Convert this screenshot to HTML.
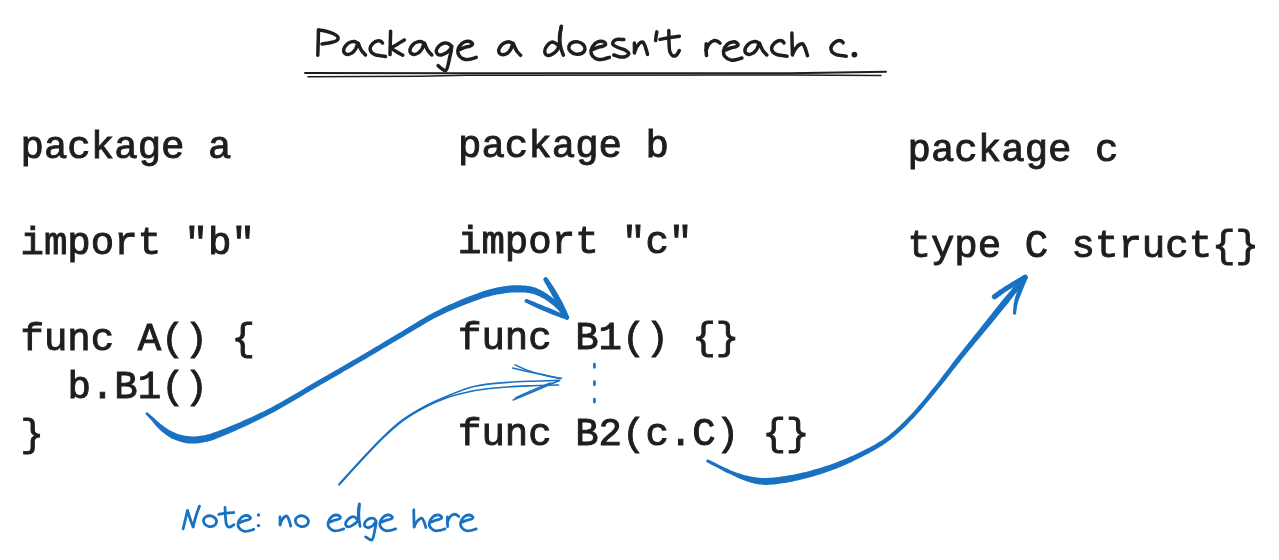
<!DOCTYPE html>
<html><head><meta charset="utf-8">
<style>
html,body{margin:0;padding:0;background:#fff;}
body{width:1279px;height:560px;overflow:hidden;position:relative;}
svg{position:absolute;left:0;top:0;will-change:transform;}
.m{font-family:"Liberation Mono",monospace;font-size:39.06px;fill:#1e1e1e;stroke:#1e1e1e;stroke-width:0.95px;white-space:pre;}
.b{fill:none;stroke:#1971c2;stroke-linecap:round;stroke-linejoin:round;}
.k{fill:none;stroke:#1e1e1e;stroke-linecap:round;stroke-linejoin:round;}
</style></head><body>
<svg width="1279" height="560" viewBox="0 0 1279 560">
<!-- code text -->
<g class="m" xml:space="preserve">
<text transform="translate(20.5 157.8) scale(1 1)">package a</text>
<text transform="translate(20.5 253.8) scale(1 1)">import &quot;b&quot;</text>
<text transform="translate(20.5 349.8) scale(1 1)">func A() {</text>
<text transform="translate(67.4 397.8) scale(1 1)">b.B1()</text>
<text transform="translate(20.5 445.8) scale(1 1)">}</text>
<text transform="translate(458.0 156.8) scale(1 1)">package b</text>
<text transform="translate(458.0 252.8) scale(1 1)">import &quot;c&quot;</text>
<text transform="translate(458.0 348.8) scale(1 1)">func B1() {}</text>
<text transform="translate(458.0 444.8) scale(1 1)">func B2(c.C) {}</text>
<text transform="translate(907.5 160.8) scale(1 1)">package c</text>
<text transform="translate(907.5 256.8) scale(1 1)">type C struct{}</text>
</g>
<!-- title: Package a doesn't reach c. -->
<g class="k" stroke-width="3.5">
<path d="M318.5 30.0 C318.4 34.0 318.3 37.9 318.2 42.0 C318.1 46.3 317.9 50.9 317.8 55.3"/>
<path d="M318.5 30.0 C321.0 30.4 323.6 30.6 326.0 31.2 C328.4 31.8 330.9 32.5 333.0 33.5 C334.8 34.4 337.2 35.5 337.8 36.8 C338.2 37.8 338.2 39.1 337.5 40.0 C336.5 41.3 333.4 41.9 331.0 42.5 C328.3 43.2 325.0 43.5 322.0 44.0"/>
<path d="M358.1 43.1 C356.8 42.6 355.4 41.8 354.2 41.6 C353.2 41.5 352.3 41.6 351.2 41.9 C349.8 42.3 347.9 43.2 346.7 44.4 C345.4 45.7 344.0 47.8 343.7 49.4 C343.5 50.6 343.8 52.1 344.4 52.9 C345.0 53.7 346.3 54.3 347.4 54.4 C348.8 54.5 350.8 53.8 352.2 52.9 C353.6 52.0 354.7 50.4 355.7 48.9 C356.7 47.2 357.4 43.1 358.1 43.1 C358.7 43.1 359.1 45.6 359.7 46.9 C360.4 48.4 361.2 50.0 362.2 51.4 C363.2 52.7 364.4 53.8 365.5 55.0"/>
<path d="M382.5 43.0 C381.8 42.4 381.3 41.5 380.5 41.1 C379.8 40.8 378.9 40.6 378.0 40.8 C376.6 41.0 374.3 42.1 373.0 43.3 C371.7 44.6 370.3 46.7 370.1 48.3 C370.0 49.7 370.6 51.2 371.5 52.3 C372.4 53.4 374.0 54.2 375.5 54.8 C377.1 55.4 379.3 55.5 381.0 55.8 C382.6 56.0 384.0 56.2 385.5 56.4"/>
<path d="M390.6 31.2 C390.5 35.1 390.4 39.1 390.3 43.0 C390.2 46.9 390.1 50.7 390.0 54.6"/>
<path d="M404.4 40.0 C401.9 41.5 399.2 43.0 397.0 44.5 C395.1 45.7 391.9 46.9 391.9 48.1 C391.9 49.4 395.2 50.8 397.0 52.0 C398.8 53.2 400.9 54.1 402.8 55.2"/>
<path d="M424.4 43.1 C423.1 42.6 421.7 41.8 420.5 41.6 C419.5 41.5 418.6 41.6 417.5 41.9 C416.1 42.3 414.2 43.2 413.0 44.4 C411.7 45.7 410.3 47.8 410.0 49.4 C409.8 50.6 410.1 52.1 410.7 52.9 C411.3 53.7 412.6 54.3 413.8 54.4 C415.1 54.5 417.1 53.8 418.5 52.9 C419.9 52.0 421.0 50.4 422.0 48.9 C423.0 47.2 423.7 43.1 424.4 43.1 C425.0 43.1 425.4 45.6 426.0 46.9 C426.7 48.4 427.5 50.0 428.5 51.4 C429.5 52.7 430.7 53.8 431.8 55.0"/>
<path d="M451.9 46.5 C450.6 45.5 449.3 44.0 448.0 43.5 C446.9 43.0 445.7 42.9 444.5 43.1 C442.9 43.4 440.9 44.3 439.5 45.5 C438.1 46.8 436.4 49.0 436.2 50.6 C436.1 51.8 436.7 53.3 437.5 54.0 C438.3 54.8 439.9 55.1 441.2 55.0 C442.7 54.9 444.5 53.9 446.0 53.0 C447.5 52.1 449.0 50.7 450.0 49.5 C450.8 48.5 451.7 46.4 451.9 46.5 C452.3 46.7 450.9 52.5 450.0 56.0 C448.9 60.4 447.7 69.7 445.6 70.6 C444.4 71.1 442.8 69.3 441.5 68.5 C440.3 67.7 439.2 66.6 438.1 65.6"/>
<path d="M460.4 49.3 C461.9 48.6 463.3 47.8 464.9 47.3 C466.4 46.8 468.5 46.8 469.9 46.2 C470.9 45.7 472.3 45.1 472.4 44.4 C472.6 43.8 471.9 42.7 471.1 42.2 C470.2 41.5 468.3 41.1 466.9 41.2 C465.2 41.4 463.3 42.2 461.9 43.5 C460.1 45.1 458.1 48.3 457.9 50.6 C457.6 52.5 458.2 54.6 459.4 56.0 C460.6 57.6 463.3 59.0 465.4 59.5 C467.2 59.9 469.0 59.4 470.9 59.0 C472.7 58.6 474.4 57.9 476.2 57.3"/>
<path d="M513.2 43.4 C511.9 42.9 510.5 42.1 509.3 41.9 C508.3 41.8 507.4 41.9 506.3 42.2 C504.9 42.6 503.0 43.5 501.8 44.7 C500.5 46.0 499.1 48.1 498.8 49.7 C498.6 50.9 498.9 52.4 499.5 53.2 C500.1 54.0 501.4 54.6 502.6 54.7 C503.9 54.8 505.9 54.1 507.3 53.2 C508.7 52.3 509.8 50.7 510.8 49.2 C511.8 47.5 512.5 43.4 513.2 43.4 C513.8 43.4 514.2 45.9 514.8 47.2 C515.5 48.7 516.3 50.3 517.3 51.7 C518.3 53.0 519.5 54.1 520.6 55.3"/>
<path d="M557.8 45.0 C556.7 44.2 555.7 43.0 554.5 42.6 C553.4 42.2 552.1 41.9 551.0 42.3 C549.7 42.7 548.2 44.2 547.2 45.5 C546.1 46.9 545.0 48.8 544.8 50.4 C544.6 51.7 544.9 53.4 545.6 54.3 C546.2 55.1 547.4 55.6 548.5 55.6 C549.8 55.6 551.6 54.7 553.0 53.8 C554.6 52.8 556.4 51.1 557.5 49.5 C558.5 48.0 558.9 46.2 559.6 44.5"/>
<path d="M561.4 26.2 C561.0 28.5 560.5 30.6 560.2 33.0 C559.9 35.5 559.7 38.4 559.8 41.0 C559.9 43.5 560.4 46.1 561.0 48.5 C561.6 50.8 562.6 53.0 563.4 55.2"/>
<path d="M561.2 27.0 C560.7 30.0 559.9 33.1 559.6 36.0 C559.4 38.7 559.6 41.3 559.6 44.0"/>
<ellipse cx="576.9" cy="48.0" rx="8.2" ry="6.2" transform="rotate(10 576.9 48.0)"/>
<path d="M593.5 49.3 C595.0 48.6 596.4 47.8 598.0 47.3 C599.6 46.8 601.6 46.8 603.0 46.2 C604.1 45.7 605.4 45.1 605.6 44.4 C605.7 43.8 605.0 42.7 604.3 42.2 C603.4 41.5 601.5 41.1 600.0 41.2 C598.4 41.4 596.4 42.2 595.0 43.5 C593.3 45.1 591.3 48.3 591.0 50.6 C590.8 52.5 591.4 54.6 592.5 56.0 C593.7 57.6 596.5 59.0 598.5 59.5 C600.3 59.9 602.2 59.4 604.0 59.0 C605.8 58.6 607.6 57.9 609.4 57.3"/>
<path d="M623.8 39.6 C621.9 39.5 619.8 39.0 618.0 39.3 C616.4 39.6 614.3 40.3 613.5 41.3 C612.9 42.1 612.6 43.6 613.0 44.5 C613.6 45.7 616.1 46.6 618.0 47.5 C620.1 48.5 623.1 48.9 625.0 50.0 C626.6 51.0 628.8 52.4 628.8 53.5 C628.8 54.5 627.2 55.7 626.0 56.3 C624.5 57.0 622.0 57.2 620.0 57.0 C617.9 56.8 615.9 55.7 613.8 55.0"/>
<path d="M634.4 43.1 L634.5 53.1"/>
<path d="M634.5 52.1 C635.3 50.3 635.9 48.2 636.9 46.6 C637.9 45.1 639.2 43.3 640.4 42.6 C641.2 42.1 642.0 41.7 642.7 42.0 C643.5 42.3 644.1 43.9 644.7 45.1 C645.3 46.4 645.7 48.1 646.2 49.6 C646.7 51.2 647.1 52.8 647.5 54.4"/>
<path d="M656.9 31.9 C656.6 33.3 656.3 34.6 656.1 36.0 C655.9 37.5 655.8 39.1 655.6 40.6"/>
<path d="M668.8 30.6 C668.9 34.4 668.8 38.3 669.0 42.0 C669.2 45.4 669.1 49.6 670.0 52.0 C670.6 53.6 671.4 55.1 672.5 55.6 C673.5 56.1 675.0 56.0 676.0 55.4 C677.3 54.7 678.3 52.2 679.4 50.6"/>
<path d="M660.0 39.4 C663.3 38.8 666.7 38.0 670.0 37.5 C673.2 37.0 676.3 36.6 679.4 36.2"/>
<path d="M706.2 43.8 C706.2 45.8 706.0 47.8 706.0 49.8 C706.1 51.7 706.4 53.7 706.5 55.6"/>
<path d="M706.2 50.2 C707.1 48.2 707.5 45.9 708.8 44.2 C710.0 42.7 712.2 41.0 713.8 40.6 C715.0 40.4 716.2 40.7 717.2 41.1 C718.3 41.6 719.1 42.5 720.0 43.1"/>
<path d="M726.0 50.0 C727.5 49.3 728.9 48.5 730.5 48.0 C732.1 47.4 734.1 47.4 735.5 46.9 C736.6 46.4 737.9 45.8 738.1 45.0 C738.2 44.4 737.5 43.4 736.8 42.9 C735.9 42.2 734.0 41.7 732.5 41.9 C730.9 42.0 728.9 42.9 727.5 44.1 C725.8 45.7 723.8 49.0 723.5 51.2 C723.3 53.1 723.9 55.2 725.0 56.6 C726.2 58.3 729.0 59.7 731.0 60.1 C732.8 60.6 734.7 60.0 736.5 59.6 C738.3 59.3 740.1 58.5 741.9 58.0"/>
<path d="M759.4 43.1 C758.1 42.6 756.7 41.8 755.5 41.6 C754.5 41.5 753.6 41.6 752.5 41.9 C751.1 42.3 749.2 43.2 748.0 44.4 C746.7 45.7 745.3 47.8 745.0 49.4 C744.8 50.6 745.1 52.1 745.7 52.9 C746.3 53.7 747.6 54.3 748.8 54.4 C750.1 54.5 752.1 53.8 753.5 52.9 C754.9 52.0 756.0 50.4 757.0 48.9 C758.0 47.2 758.7 43.1 759.4 43.1 C760.0 43.1 760.4 45.6 761.0 46.9 C761.7 48.4 762.5 50.0 763.5 51.4 C764.5 52.7 765.7 53.8 766.8 55.0"/>
<path d="M784.0 42.8 C783.3 42.2 782.8 41.3 782.0 40.9 C781.3 40.6 780.4 40.4 779.5 40.6 C778.1 40.8 775.8 41.9 774.5 43.1 C773.2 44.4 771.8 46.5 771.6 48.1 C771.5 49.5 772.1 51.0 773.0 52.1 C773.9 53.2 775.5 54.0 777.0 54.6 C778.6 55.2 780.8 55.3 782.5 55.6 C784.1 55.8 785.5 56.0 787.0 56.2"/>
<path d="M791.9 33.1 C792.0 36.8 792.0 40.4 792.1 44.1 C792.2 47.7 792.4 51.4 792.5 55.0"/>
<path d="M792.5 54.1 C793.6 52.1 794.6 49.8 795.9 48.1 C797.1 46.6 798.6 45.1 799.9 44.4 C800.8 43.9 801.8 43.4 802.5 43.7 C803.4 44.1 804.0 45.7 804.7 47.1 C805.7 49.2 806.6 52.8 807.5 55.6"/>
<path d="M843.2 42.8 C842.6 42.2 842.0 41.3 841.2 40.9 C840.5 40.6 839.7 40.4 838.8 40.6 C837.3 40.8 835.1 41.9 833.8 43.1 C832.4 44.4 831.0 46.5 830.9 48.1 C830.7 49.5 831.4 51.0 832.2 52.1 C833.2 53.2 834.7 54.0 836.2 54.6 C837.9 55.2 840.0 55.3 841.8 55.6 C843.3 55.8 844.8 56.0 846.2 56.2"/>
<circle cx="854.4" cy="54.6" r="2.9" fill="#1e1e1e" stroke="none"/>
</g>
<!-- title underline -->
<g class="k">
<path stroke-width="2" d="M305 73 L461 73.2 L790 73.3 L886 71.8"/>
<path stroke-width="1.5" d="M308 76.7 L420 76.2 L466 75.2 L790 75 L881 75.6"/>
</g>
<!-- arrow 1 -->
<g fill="#1971c2" stroke="none">
<path d="M145.7 414.3 L146.1 414.8 L146.6 415.2 L147.0 415.7 L147.4 416.1 L147.8 416.5 L148.2 417.0 L148.6 417.4 L149.0 417.8 L149.5 418.3 L149.9 418.7 L150.4 419.2 L150.8 419.7 L151.4 420.4 L152.0 421.1 L152.6 421.8 L153.2 422.5 L153.8 423.3 L154.5 424.1 L155.1 424.9 L155.8 425.7 L156.6 426.5 L157.3 427.3 L158.1 428.1 L158.9 428.9 L159.8 429.7 L160.7 430.6 L161.7 431.4 L162.7 432.2 L163.7 433.1 L164.8 433.9 L165.8 434.7 L166.9 435.5 L168.1 436.3 L169.2 437.0 L170.4 437.7 L171.6 438.4 L172.9 439.0 L174.2 439.6 L175.5 440.1 L176.9 440.6 L178.2 441.1 L179.6 441.5 L181.0 442.0 L182.4 442.3 L183.8 442.7 L185.3 442.9 L186.7 443.2 L188.1 443.4 L189.6 443.5 L191.1 443.6 L192.6 443.6 L194.0 443.5 L195.5 443.5 L197.0 443.4 L198.4 443.2 L199.9 443.0 L201.4 442.8 L202.8 442.6 L204.2 442.3 L205.7 442.0 L207.2 441.7 L208.7 441.3 L210.2 440.9 L211.7 440.4 L213.1 439.9 L214.6 439.4 L216.1 438.8 L217.6 438.3 L219.1 437.6 L220.7 437.0 L222.4 436.3 L224.2 435.6 L227.3 434.3 L230.7 432.8 L234.3 431.3 L238.0 429.6 L242.0 427.8 L246.0 425.9 L250.1 424.0 L254.2 422.0 L258.3 420.0 L262.3 418.0 L266.3 416.0 L270.2 414.0 L274.2 411.9 L278.1 409.7 L282.0 407.6 L285.9 405.3 L289.8 403.1 L293.7 400.8 L297.6 398.5 L301.5 396.2 L305.4 393.8 L309.2 391.5 L313.1 389.3 L317.0 387.0 L320.9 384.8 L324.8 382.5 L328.7 380.2 L332.7 378.0 L336.6 375.7 L340.6 373.4 L344.5 371.1 L348.3 368.9 L352.2 366.7 L355.9 364.5 L359.7 362.3 L363.3 360.2 L366.4 358.4 L369.4 356.6 L372.3 354.9 L375.2 353.2 L378.1 351.5 L380.9 349.8 L383.7 348.1 L386.6 346.5 L389.4 344.8 L392.3 343.1 L395.3 341.3 L398.3 339.5 L401.8 337.5 L405.2 335.4 L408.8 333.3 L412.3 331.2 L415.9 329.0 L419.5 326.9 L423.1 324.7 L426.8 322.6 L430.4 320.6 L434.0 318.6 L437.6 316.7 L441.2 314.9 L444.8 313.2 L448.5 311.6 L452.2 309.9 L456.0 308.3 L459.8 306.7 L463.6 305.2 L467.3 303.7 L470.9 302.4 L474.5 301.1 L477.8 299.9 L481.0 298.8 L484.0 297.8 L485.8 297.3 L487.5 296.8 L489.2 296.4 L490.8 295.9 L492.3 295.6 L493.8 295.2 L495.3 294.9 L496.8 294.6 L498.2 294.4 L499.7 294.1 L501.1 293.9 L502.6 293.7 L503.9 293.5 L505.1 293.3 L506.3 293.1 L507.6 293.0 L508.8 292.8 L509.9 292.7 L511.1 292.6 L512.3 292.5 L513.5 292.5 L514.6 292.4 L515.8 292.4 L517.0 292.4 L518.2 292.4 L519.5 292.4 L520.7 292.4 L521.9 292.4 L523.1 292.5 L524.4 292.5 L525.6 292.6 L526.7 292.7 L527.9 292.9 L529.0 293.1 L530.1 293.3 L531.2 293.5 L532.1 293.7 L533.1 294.0 L534.1 294.3 L535.0 294.6 L535.9 294.9 L536.9 295.3 L537.8 295.7 L538.7 296.1 L539.7 296.5 L540.6 297.0 L541.5 297.5 L542.5 298.0 L543.5 298.5 L544.5 299.1 L545.5 299.7 L546.5 300.4 L547.5 301.0 L548.5 301.7 L549.5 302.4 L550.5 303.2 L551.4 303.9 L552.4 304.7 L553.3 305.5 L554.3 306.3 L555.2 307.2 L556.1 308.1 L557.1 309.0 L558.0 310.0 L558.9 311.1 L559.8 312.1 L560.7 313.2 L561.6 314.3 L562.5 315.3 L563.4 316.4 L564.3 317.5 L565.3 318.6 A2.0 2.0 0 0 0 568.3 316.0 L567.5 314.9 L566.6 313.8 L565.8 312.7 L565.0 311.6 L564.1 310.4 L563.3 309.3 L562.4 308.1 L561.5 307.0 L560.6 305.9 L559.7 304.8 L558.7 303.7 L557.7 302.7 L556.8 301.8 L555.8 300.8 L554.8 299.9 L553.9 299.0 L552.8 298.2 L551.8 297.3 L550.8 296.5 L549.8 295.7 L548.7 295.0 L547.6 294.2 L546.6 293.5 L545.5 292.8 L544.5 292.2 L543.5 291.6 L542.5 291.0 L541.5 290.5 L540.5 290.0 L539.5 289.4 L538.4 289.0 L537.3 288.5 L536.3 288.1 L535.1 287.6 L534.0 287.3 L532.8 286.9 L531.6 286.6 L530.2 286.3 L528.9 286.1 L527.6 285.9 L526.3 285.7 L524.9 285.6 L523.6 285.5 L522.2 285.4 L520.9 285.3 L519.6 285.3 L518.3 285.2 L517.0 285.2 L515.7 285.2 L514.4 285.3 L513.1 285.3 L511.8 285.4 L510.5 285.5 L509.3 285.6 L508.0 285.8 L506.7 285.9 L505.4 286.1 L504.1 286.3 L502.8 286.5 L501.4 286.7 L499.9 287.0 L498.4 287.3 L496.9 287.6 L495.4 288.0 L493.9 288.3 L492.3 288.7 L490.7 289.1 L489.1 289.6 L487.4 290.0 L485.7 290.6 L483.9 291.1 L482.0 291.8 L479.0 292.8 L475.7 294.0 L472.3 295.2 L468.8 296.6 L465.1 298.1 L461.3 299.6 L457.5 301.2 L453.7 302.9 L449.9 304.6 L446.1 306.3 L442.4 308.1 L438.8 309.9 L435.1 311.8 L431.4 313.7 L427.7 315.8 L424.0 317.9 L420.4 320.1 L416.7 322.2 L413.1 324.4 L409.6 326.6 L406.0 328.8 L402.5 330.9 L399.1 333.0 L395.7 335.1 L392.7 336.8 L389.7 338.6 L386.8 340.3 L383.9 342.0 L381.1 343.7 L378.3 345.4 L375.4 347.1 L372.6 348.8 L369.7 350.5 L366.8 352.2 L363.8 354.0 L360.7 355.8 L357.1 357.9 L353.4 360.1 L349.6 362.3 L345.8 364.5 L341.9 366.7 L338.0 369.0 L334.1 371.3 L330.1 373.5 L326.2 375.8 L322.2 378.1 L318.3 380.3 L314.4 382.6 L310.5 384.8 L306.6 387.1 L302.7 389.4 L298.9 391.7 L295.0 394.0 L291.1 396.3 L287.2 398.6 L283.3 400.8 L279.5 403.0 L275.6 405.1 L271.7 407.2 L267.8 409.2 L263.9 411.2 L259.9 413.1 L255.9 415.0 L251.7 416.9 L247.6 418.8 L243.5 420.6 L239.5 422.4 L235.6 424.0 L231.9 425.6 L228.3 427.1 L224.9 428.4 L221.8 429.6 L220.0 430.3 L218.4 430.9 L216.8 431.5 L215.3 432.1 L213.8 432.6 L212.4 433.1 L211.0 433.5 L209.7 433.9 L208.4 434.3 L207.0 434.6 L205.7 434.9 L204.3 435.2 L203.0 435.4 L201.6 435.6 L200.3 435.8 L199.0 436.0 L197.7 436.2 L196.4 436.3 L195.1 436.4 L193.8 436.4 L192.6 436.4 L191.3 436.4 L190.1 436.3 L188.9 436.2 L187.6 436.1 L186.4 436.0 L185.2 435.8 L183.9 435.6 L182.7 435.3 L181.5 435.0 L180.2 434.7 L179.0 434.3 L177.8 433.9 L176.6 433.5 L175.5 433.1 L174.4 432.6 L173.3 432.1 L172.2 431.6 L171.2 431.1 L170.1 430.5 L169.1 429.9 L168.0 429.3 L167.0 428.6 L166.0 427.9 L165.0 427.2 L164.0 426.5 L163.0 425.8 L162.1 425.1 L161.3 424.5 L160.5 423.9 L159.8 423.2 L159.0 422.6 L158.2 421.9 L157.5 421.2 L156.8 420.5 L156.0 419.9 L155.3 419.2 L154.6 418.5 L153.9 417.9 L153.2 417.3 L152.7 416.8 L152.2 416.4 L151.7 416.0 L151.2 415.6 L150.7 415.2 L150.3 414.8 L149.8 414.4 L149.3 414.0 L148.9 413.6 L148.4 413.2 L148.0 412.8 L147.5 412.5 A1.3 1.3 0 0 0 145.7 414.3 Z"/>
<path d="M543.6 280.6 L544.2 281.6 L544.7 282.5 L545.3 283.4 L545.8 284.4 L546.4 285.3 L546.9 286.2 L547.4 287.2 L548.0 288.1 L548.5 289.0 L549.0 290.0 L549.6 290.9 L550.1 291.9 L550.7 293.0 L551.3 294.1 L551.9 295.2 L552.5 296.3 L553.1 297.4 L553.7 298.6 L554.3 299.7 L555.0 300.8 L555.6 302.0 L556.2 303.1 L556.8 304.3 L557.4 305.4 L558.0 306.5 L558.6 307.6 L559.3 308.7 L559.9 309.7 L560.6 310.8 L561.2 311.9 L561.8 313.0 L562.5 314.1 L563.1 315.2 L563.7 316.3 L564.4 317.4 L565.0 318.4 A2.2 2.2 0 0 0 569.0 316.4 L568.5 315.2 L567.9 314.1 L567.4 312.9 L566.9 311.8 L566.4 310.6 L565.9 309.5 L565.3 308.3 L564.8 307.2 L564.3 306.0 L563.7 304.9 L563.2 303.7 L562.6 302.6 L562.0 301.5 L561.4 300.3 L560.7 299.2 L560.1 298.0 L559.5 296.9 L558.8 295.8 L558.2 294.6 L557.5 293.5 L556.9 292.4 L556.2 291.3 L555.6 290.2 L554.9 289.1 L554.3 288.1 L553.7 287.2 L553.1 286.2 L552.4 285.3 L551.8 284.4 L551.2 283.5 L550.6 282.6 L550.0 281.7 L549.4 280.8 L548.8 280.0 L548.2 279.1 L547.6 278.2 A2.3 2.3 0 0 0 543.6 280.6 Z"/>
<path d="M525.4 302.6 L526.5 303.1 L527.5 303.6 L528.5 304.1 L529.6 304.6 L530.6 305.1 L531.7 305.6 L532.7 306.1 L533.8 306.6 L534.9 307.0 L535.9 307.5 L537.0 308.0 L538.1 308.5 L539.2 309.0 L540.4 309.5 L541.6 310.0 L542.7 310.5 L543.9 311.0 L545.1 311.5 L546.2 312.0 L547.4 312.5 L548.6 313.0 L549.8 313.5 L550.9 313.9 L552.1 314.4 L553.3 314.9 L554.4 315.3 L555.6 315.7 L556.8 316.2 L557.9 316.6 L559.1 317.0 L560.2 317.4 L561.4 317.9 L562.6 318.3 L563.7 318.7 L564.9 319.1 L566.0 319.6 A2.1 2.1 0 0 0 567.6 315.6 L566.4 315.2 L565.3 314.7 L564.1 314.2 L563.0 313.8 L561.9 313.3 L560.7 312.8 L559.6 312.4 L558.4 311.9 L557.3 311.4 L556.2 310.9 L555.0 310.5 L553.9 310.0 L552.7 309.5 L551.6 309.0 L550.4 308.6 L549.2 308.1 L548.0 307.6 L546.9 307.2 L545.7 306.7 L544.5 306.2 L543.4 305.7 L542.2 305.2 L541.0 304.8 L539.9 304.3 L538.8 303.8 L537.7 303.4 L536.6 303.0 L535.6 302.5 L534.5 302.1 L533.4 301.6 L532.4 301.2 L531.3 300.7 L530.2 300.3 L529.2 299.9 L528.1 299.4 L527.0 299.0 A2.0 2.0 0 0 0 525.4 302.6 Z"/>
</g>
<!-- arrow 3 -->
<g fill="#1971c2" stroke="none">
<path d="M706.8 462.2 L708.9 463.3 L710.9 464.4 L713.0 465.4 L715.1 466.5 L717.2 467.6 L719.3 468.7 L721.4 469.8 L723.4 470.9 L725.4 471.9 L727.4 472.9 L729.4 473.8 L731.2 474.6 L732.7 475.3 L734.0 476.0 L735.4 476.6 L736.7 477.3 L738.0 477.9 L739.3 478.5 L740.6 479.0 L741.9 479.6 L743.2 480.1 L744.6 480.6 L745.9 481.1 L747.3 481.5 L748.6 481.9 L750.0 482.3 L751.3 482.7 L752.6 483.0 L754.0 483.4 L755.4 483.7 L756.8 484.0 L758.2 484.2 L759.7 484.5 L761.2 484.6 L762.8 484.8 L764.5 484.9 L766.8 484.9 L769.2 484.8 L771.7 484.6 L774.3 484.4 L776.9 484.1 L779.5 483.7 L782.2 483.3 L784.9 482.9 L787.6 482.4 L790.3 481.9 L793.0 481.4 L795.7 480.8 L798.5 480.2 L801.4 479.6 L804.3 478.8 L807.2 478.1 L810.2 477.3 L813.1 476.5 L816.0 475.6 L819.0 474.7 L821.9 473.8 L824.8 472.8 L827.7 471.8 L830.5 470.8 L833.3 469.8 L836.1 468.7 L838.9 467.5 L841.7 466.4 L844.5 465.2 L847.3 463.9 L850.0 462.7 L852.7 461.4 L855.4 460.1 L858.0 458.8 L860.6 457.5 L863.1 456.2 L865.4 455.1 L867.6 453.9 L869.7 452.8 L871.9 451.6 L874.0 450.4 L876.1 449.3 L878.2 448.0 L880.2 446.8 L882.3 445.5 L884.3 444.1 L886.3 442.7 L888.3 441.3 L890.4 439.7 L892.4 438.1 L894.4 436.5 L896.3 434.8 L898.3 433.1 L900.2 431.3 L902.1 429.5 L904.0 427.7 L905.9 425.9 L907.8 424.0 L909.6 422.0 L911.5 420.1 L913.7 417.9 L915.8 415.6 L917.9 413.2 L920.0 410.9 L922.1 408.4 L924.2 406.0 L926.3 403.5 L928.4 401.0 L930.5 398.4 L932.6 395.9 L934.6 393.4 L936.7 390.9 L938.8 388.3 L941.0 385.7 L943.1 383.0 L945.2 380.4 L947.3 377.7 L949.4 375.0 L951.5 372.3 L953.6 369.6 L955.7 367.0 L957.8 364.3 L959.9 361.7 L962.0 359.1 L964.1 356.5 L966.2 353.9 L968.3 351.3 L970.5 348.7 L972.6 346.2 L974.7 343.6 L976.9 341.1 L979.0 338.5 L981.1 336.0 L983.2 333.5 L985.2 331.1 L987.3 328.6 L989.0 326.5 L990.8 324.4 L992.5 322.3 L994.2 320.2 L995.8 318.2 L997.5 316.1 L999.2 314.1 L1000.8 312.1 L1002.5 310.1 L1004.1 308.1 L1005.8 306.0 L1007.5 304.0 L1009.1 301.9 L1010.7 299.8 L1012.3 297.7 L1014.0 295.6 L1015.6 293.5 L1017.2 291.4 L1018.8 289.3 L1020.4 287.2 L1022.1 285.1 L1023.7 283.0 L1025.3 280.9 L1026.9 278.8 A2.5 2.5 0 0 0 1023.1 275.6 L1021.3 277.7 L1019.6 279.7 L1017.9 281.7 L1016.2 283.8 L1014.5 285.8 L1012.8 287.8 L1011.1 289.9 L1009.4 291.9 L1007.7 293.9 L1006.0 296.0 L1004.3 298.0 L1002.5 300.0 L1000.9 302.1 L999.3 304.2 L997.6 306.2 L996.0 308.2 L994.4 310.3 L992.8 312.3 L991.2 314.4 L989.5 316.5 L987.9 318.6 L986.2 320.7 L984.5 322.8 L982.7 325.0 L980.8 327.4 L978.8 329.9 L976.8 332.5 L974.7 335.0 L972.7 337.6 L970.6 340.2 L968.5 342.8 L966.4 345.4 L964.3 348.0 L962.2 350.7 L960.1 353.3 L958.0 355.9 L956.0 358.6 L953.9 361.3 L951.8 364.0 L949.8 366.7 L947.7 369.4 L945.7 372.1 L943.6 374.8 L941.6 377.5 L939.5 380.2 L937.4 382.9 L935.4 385.5 L933.3 388.1 L931.2 390.6 L929.2 393.1 L927.1 395.7 L925.1 398.2 L923.0 400.7 L920.9 403.2 L918.8 405.6 L916.8 408.0 L914.7 410.4 L912.6 412.7 L910.5 414.9 L908.5 417.1 L906.6 419.0 L904.7 420.9 L902.8 422.8 L901.0 424.6 L899.1 426.4 L897.2 428.1 L895.4 429.8 L893.5 431.5 L891.6 433.1 L889.6 434.7 L887.7 436.2 L885.7 437.7 L883.8 439.1 L881.8 440.4 L879.8 441.6 L877.8 442.8 L875.8 444.0 L873.8 445.2 L871.7 446.3 L869.6 447.4 L867.5 448.5 L865.3 449.6 L863.1 450.7 L860.9 451.8 L858.4 453.0 L855.8 454.2 L853.2 455.4 L850.5 456.6 L847.8 457.7 L845.1 458.9 L842.3 460.0 L839.6 461.1 L836.8 462.2 L834.0 463.2 L831.3 464.2 L828.5 465.2 L825.7 466.1 L822.9 467.0 L820.0 467.9 L817.2 468.8 L814.3 469.6 L811.4 470.4 L808.5 471.2 L805.7 471.9 L802.8 472.6 L800.0 473.2 L797.1 473.8 L794.3 474.4 L791.8 474.9 L789.1 475.3 L786.5 475.8 L783.8 476.2 L781.2 476.6 L778.6 477.0 L776.1 477.3 L773.6 477.5 L771.2 477.7 L768.9 477.8 L766.6 477.9 L764.5 477.9 L763.1 477.9 L761.7 477.9 L760.3 477.8 L759.0 477.8 L757.7 477.6 L756.4 477.5 L755.2 477.3 L753.9 477.1 L752.6 476.9 L751.3 476.6 L750.0 476.4 L748.7 476.1 L747.4 475.8 L746.1 475.5 L744.8 475.2 L743.5 474.8 L742.3 474.5 L741.0 474.1 L739.7 473.6 L738.4 473.2 L737.0 472.7 L735.6 472.2 L734.2 471.7 L732.8 471.2 L730.9 470.4 L729.0 469.5 L727.0 468.6 L725.0 467.7 L722.9 466.7 L720.8 465.7 L718.7 464.7 L716.6 463.6 L714.5 462.6 L712.3 461.6 L710.2 460.5 L708.2 459.6 A1.5 1.5 0 0 0 706.8 462.2 Z"/>
<path d="M996.2 298.8 L996.9 298.2 L997.7 297.7 L998.5 297.1 L999.2 296.5 L1000.0 296.0 L1000.8 295.4 L1001.5 294.8 L1002.3 294.3 L1003.0 293.7 L1003.8 293.2 L1004.6 292.6 L1005.4 292.1 L1006.2 291.5 L1007.1 291.0 L1008.0 290.4 L1008.9 289.8 L1009.9 289.3 L1010.8 288.7 L1011.7 288.2 L1012.6 287.6 L1013.6 287.1 L1014.5 286.5 L1015.4 286.0 L1016.3 285.4 L1017.2 284.9 L1018.0 284.4 L1018.9 283.9 L1019.7 283.4 L1020.6 282.9 L1021.4 282.4 L1022.2 281.9 L1023.1 281.4 L1023.9 280.9 L1024.8 280.4 L1025.6 279.9 L1026.5 279.4 A2.5 2.5 0 0 0 1023.9 275.0 L1023.1 275.5 L1022.2 276.0 L1021.4 276.5 L1020.5 277.0 L1019.7 277.5 L1018.8 278.0 L1018.0 278.5 L1017.1 279.0 L1016.3 279.4 L1015.4 280.0 L1014.5 280.5 L1013.7 281.0 L1012.8 281.5 L1011.8 282.1 L1010.9 282.7 L1010.0 283.2 L1009.1 283.8 L1008.1 284.4 L1007.2 285.0 L1006.3 285.5 L1005.3 286.1 L1004.4 286.7 L1003.5 287.3 L1002.6 287.9 L1001.8 288.5 L1000.9 289.0 L1000.1 289.5 L999.3 290.1 L998.5 290.6 L997.7 291.2 L996.9 291.7 L996.2 292.3 L995.4 292.8 L994.6 293.3 L993.8 293.9 L993.0 294.4 A2.7 2.7 0 0 0 996.2 298.8 Z"/>
<path d="M1016.1 313.4 L1016.2 312.5 L1016.3 311.7 L1016.4 310.8 L1016.6 310.0 L1016.7 309.1 L1016.8 308.3 L1016.9 307.4 L1017.0 306.6 L1017.2 305.8 L1017.3 305.0 L1017.5 304.2 L1017.7 303.4 L1017.9 302.6 L1018.1 301.8 L1018.4 301.1 L1018.6 300.3 L1018.9 299.5 L1019.2 298.8 L1019.5 298.0 L1019.8 297.2 L1020.1 296.4 L1020.5 295.5 L1020.8 294.7 L1021.2 293.8 L1021.6 292.6 L1022.1 291.5 L1022.6 290.2 L1023.1 289.0 L1023.6 287.7 L1024.2 286.4 L1024.7 285.1 L1025.3 283.8 L1025.9 282.5 L1026.4 281.1 L1027.0 279.8 L1027.5 278.5 A2.5 2.5 0 0 0 1022.9 276.7 L1022.4 278.0 L1021.9 279.3 L1021.3 280.6 L1020.8 281.9 L1020.3 283.3 L1019.7 284.6 L1019.2 285.9 L1018.7 287.2 L1018.2 288.5 L1017.7 289.8 L1017.3 291.0 L1016.8 292.2 L1016.5 293.1 L1016.3 294.0 L1016.0 294.9 L1015.7 295.7 L1015.4 296.6 L1015.2 297.4 L1015.0 298.3 L1014.7 299.1 L1014.5 300.0 L1014.3 300.8 L1014.1 301.7 L1013.9 302.6 L1013.8 303.5 L1013.7 304.4 L1013.5 305.3 L1013.4 306.1 L1013.4 307.0 L1013.3 307.9 L1013.2 308.8 L1013.2 309.6 L1013.1 310.5 L1013.1 311.3 L1013.0 312.2 L1012.9 313.0 A1.6 1.6 0 0 0 1016.1 313.4 Z"/>
</g>
<!-- arrow 2 thin -->
<g class="b" stroke-width="1.6">
<path d="M338.8 484.5 C345.0 477.6 350.8 471.0 357.5 463.7 C365.2 455.4 374.5 445.2 382.5 437.5 C389.4 430.9 395.4 425.2 402.5 420.0 C409.6 414.8 417.6 410.2 425.0 406.2 C431.8 402.6 437.6 400.0 445.0 397.0 C453.9 393.4 464.7 388.7 475.0 386.3 C485.5 383.8 497.4 383.3 507.5 382.4 C516.2 381.7 523.7 381.5 532.0 381.2 C540.7 380.9 549.7 380.7 558.5 380.4"/>
<path d="M339.2 484.8 C345.5 477.9 351.2 471.4 358.0 464.2 C365.7 456.0 375.0 445.7 383.0 438.0 C389.9 431.4 395.9 425.8 403.0 420.6 C410.1 415.4 418.1 410.8 425.5 407.0 C432.2 403.5 438.1 400.8 445.5 398.2 C454.3 395.1 464.9 392.4 475.0 390.5 C485.5 388.6 497.4 387.8 507.5 387.0 C516.2 386.3 523.7 386.1 532.0 385.8 C540.7 385.5 549.7 385.3 558.5 385.0"/>
<path d="M515 364.9 C528 371.5 545 376.5 561.4 378.4"/><path d="M512.6 368 C527 372 546 374.5 559.6 378.4"/>
<path d="M513.2 399.9 C528 394 544 387 559.6 380.4"/><path d="M515.5 398 C527 392.5 539 387.5 550.4 383"/>
</g>
<!-- dotted -->
<path class="b" stroke-width="2.7" stroke-dasharray="3.1 14.3" d="M594.4 364.2 V404"/>
<!-- note: Note: no edge here -->
<g class="b" stroke-width="2.8">
<path d="M187.5 510.6 C186.8 513.4 186.2 516.1 185.5 519.0 C184.7 522.1 183.9 525.5 183.1 528.8"/>
<path d="M187.5 510.6 C188.3 513.2 189.1 515.8 190.0 518.5 C190.9 521.3 192.1 524.1 193.1 526.9"/>
<path d="M193.1 526.9 C194.1 523.3 194.9 519.5 196.0 516.0 C197.0 512.6 198.3 509.5 199.4 506.2"/>
<ellipse cx="210.0" cy="521.2" rx="6.6" ry="5.4" transform="rotate(10 210.0 521.2)"/>
<path d="M225.0 507.5 C225.2 510.7 225.2 513.9 225.5 517.0 C225.8 519.9 225.8 523.8 226.9 525.5 C227.5 526.5 228.5 527.2 229.5 527.2 C230.7 527.2 232.4 525.6 233.8 524.8"/>
<path d="M218.8 514.4 C221.2 514.0 223.5 513.5 226.0 513.2 C228.5 512.9 231.2 512.7 233.8 512.5"/>
<path d="M240.1 522.5 C241.4 521.9 242.6 521.2 244.0 520.8 C245.4 520.3 247.1 520.3 248.3 519.8 C249.2 519.4 250.4 518.9 250.5 518.3 C250.7 517.7 250.0 516.8 249.4 516.4 C248.6 515.8 247.0 515.4 245.7 515.5 C244.3 515.7 242.6 516.4 241.4 517.5 C239.9 518.9 238.2 521.7 238.0 523.6 C237.8 525.2 238.3 527.0 239.3 528.2 C240.3 529.6 242.7 530.9 244.4 531.3 C246.0 531.6 247.6 531.1 249.2 530.8 C250.7 530.5 252.3 529.8 253.8 529.4"/>
<path d="M280.0 516.9 L280.1 525.1"/>
<path d="M280.1 524.1 C280.7 522.7 281.2 521.1 282.1 519.8 C282.8 518.5 284.0 517.1 284.9 516.5 C285.6 516.1 286.3 515.8 286.8 516.0 C287.5 516.3 288.0 517.6 288.4 518.5 C289.0 519.6 289.3 521.0 289.7 522.2 C290.1 523.5 290.4 524.9 290.7 526.2"/>
<ellipse cx="301.9" cy="521.2" rx="6.6" ry="5.4" transform="rotate(10 301.9 521.2)"/>
<path d="M330.1 522.0 C331.4 521.4 332.6 520.7 334.0 520.3 C335.4 519.8 337.1 519.8 338.3 519.3 C339.2 518.9 340.4 518.4 340.5 517.8 C340.7 517.2 340.0 516.3 339.4 515.9 C338.6 515.3 337.0 514.9 335.7 515.0 C334.3 515.2 332.6 515.9 331.4 517.0 C329.9 518.4 328.2 521.2 328.0 523.1 C327.8 524.7 328.3 526.5 329.3 527.7 C330.3 529.1 332.7 530.4 334.4 530.8 C336.0 531.1 337.6 530.6 339.2 530.3 C340.7 530.0 342.3 529.3 343.8 528.9"/>
<path d="M356.9 518.8 C356.1 518.2 355.4 517.3 354.5 517.0 C353.7 516.7 352.8 516.6 351.9 516.9 C350.7 517.2 349.1 518.4 348.0 519.5 C347.0 520.5 345.8 521.9 345.6 523.1 C345.4 524.1 345.7 525.4 346.3 526.0 C346.8 526.6 347.9 526.9 348.8 526.9 C350.0 526.9 351.7 525.8 353.0 525.0 C354.4 524.2 356.0 523.1 356.9 521.9 C357.8 520.8 358.0 519.3 358.5 518.0"/>
<path d="M359.4 503.8 C359.2 506.2 359.0 508.5 358.9 511.0 C358.8 513.6 358.8 516.4 359.0 519.0 C359.2 521.5 359.7 523.9 360.1 526.4"/>
<path d="M359.3 504.5 C358.9 507.0 358.3 509.5 358.2 512.0 C358.1 514.4 358.5 516.7 358.6 519.0"/>
<path d="M376.2 521.0 C375.5 520.2 374.9 519.1 374.0 518.6 C373.2 518.2 372.2 518.0 371.2 518.1 C369.9 518.3 368.1 519.0 367.0 520.0 C365.9 520.9 364.6 522.6 364.4 523.8 C364.3 524.8 364.8 526.2 365.5 526.8 C366.2 527.4 367.7 527.6 368.8 527.5 C370.1 527.3 371.8 526.5 373.0 525.5 C374.3 524.4 375.8 521.0 376.2 521.2 C376.8 521.4 375.5 527.0 374.8 530.0 C374.1 533.2 373.5 539.2 371.9 540.0 C371.0 540.5 369.6 539.3 368.5 538.8 C367.5 538.3 366.6 537.5 365.6 536.9"/>
<path d="M382.0 522.0 C383.3 521.4 384.5 520.7 385.8 520.3 C387.2 519.8 389.0 519.8 390.1 519.3 C391.1 518.9 392.2 518.4 392.4 517.8 C392.5 517.2 391.9 516.3 391.3 515.9 C390.5 515.3 388.8 514.9 387.6 515.0 C386.2 515.2 384.5 515.9 383.3 517.0 C381.8 518.4 380.1 521.2 379.8 523.1 C379.6 524.7 380.2 526.5 381.1 527.7 C382.2 529.1 384.5 530.4 386.3 530.8 C387.8 531.1 389.5 530.6 391.0 530.3 C392.6 530.0 394.1 529.3 395.7 528.9"/>
<path d="M413.8 510.0 C413.8 512.9 413.8 515.7 413.9 518.6 C414.0 521.4 414.1 524.2 414.2 527.1"/>
<path d="M414.2 526.4 C415.1 524.8 415.8 523.0 416.9 521.7 C417.8 520.5 419.0 519.4 420.0 518.8 C420.7 518.4 421.4 518.0 422.0 518.3 C422.7 518.5 423.2 519.8 423.7 520.9 C424.5 522.6 425.2 525.3 425.9 527.5"/>
<path d="M431.4 522.0 C432.7 521.4 433.9 520.7 435.2 520.3 C436.6 519.8 438.4 519.8 439.5 519.3 C440.5 518.9 441.6 518.4 441.8 517.8 C441.9 517.2 441.3 516.3 440.7 515.9 C439.9 515.3 438.2 514.9 437.0 515.0 C435.6 515.2 433.9 515.9 432.7 517.0 C431.2 518.4 429.5 521.2 429.2 523.1 C429.0 524.7 429.6 526.5 430.5 527.7 C431.6 529.1 433.9 530.4 435.7 530.8 C437.2 531.1 438.9 530.6 440.4 530.3 C442.0 530.0 443.5 529.3 445.1 528.9"/>
<path d="M447.5 516.9 C447.4 518.5 447.3 520.2 447.3 521.8 C447.4 523.4 447.6 525.0 447.7 526.7"/>
<path d="M447.5 522.2 C448.2 520.6 448.5 518.6 449.6 517.3 C450.6 516.0 452.3 514.7 453.6 514.4 C454.6 514.1 455.7 514.4 456.5 514.8 C457.4 515.1 458.1 515.9 458.8 516.4"/>
<path d="M462.6 522.0 C463.9 521.4 465.1 520.7 466.5 520.3 C467.9 519.8 469.6 519.8 470.8 519.3 C471.7 518.9 472.9 518.4 473.0 517.8 C473.2 517.2 472.5 516.3 471.9 515.9 C471.1 515.3 469.5 514.9 468.2 515.0 C466.8 515.2 465.1 515.9 463.9 517.0 C462.4 518.4 460.7 521.2 460.5 523.1 C460.3 524.7 460.8 526.5 461.8 527.7 C462.8 529.1 465.2 530.4 466.9 530.8 C468.5 531.1 470.1 530.6 471.7 530.3 C473.2 530.0 474.8 529.3 476.3 528.9"/>
<circle cx="258.5" cy="515" r="1.7" fill="#1971c2" stroke="none"/><circle cx="258.5" cy="525.6" r="1.7" fill="#1971c2" stroke="none"/>
</g>
</svg>
</body></html>
